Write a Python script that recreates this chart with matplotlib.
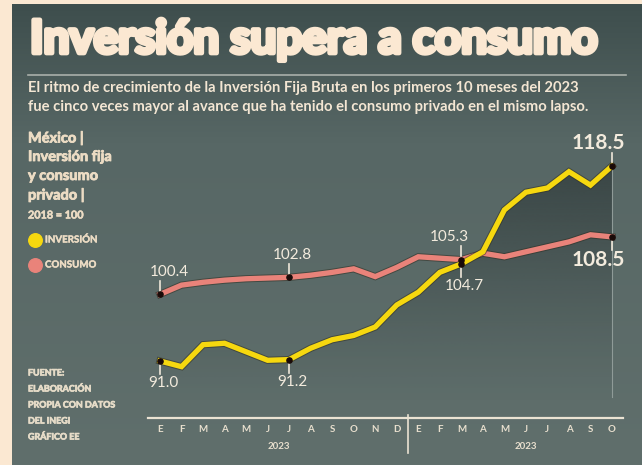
import matplotlib
matplotlib.use("Agg")
import matplotlib.pyplot as plt
import numpy as np
from matplotlib.patches import Polygon
import matplotlib.patheffects as pe

# ---- data (índice 2018 = 100), ene-2022 .. oct-2023 ----
meses = ["E", "F", "M", "A", "M", "J", "J", "A", "S", "O", "N", "D",
         "E", "F", "M", "A", "M", "J", "J", "A", "S", "O"]
anios = ["2023", "2023"]
inversion = [91.0, 90.2, 93.3, 93.5, 92.3, 91.1, 91.2, 92.8, 94.0, 94.6, 95.8, 98.9,
             100.7, 103.5, 104.7, 106.4, 112.3, 114.8, 115.4, 117.7, 115.8, 118.5]
consumo = [100.4, 101.7, 102.1, 102.4, 102.6, 102.7, 102.8, 103.1, 103.5, 104.0, 102.9, 104.2,
           105.7, 105.5, 105.3, 106.2, 105.7, 106.4, 107.1, 107.8, 108.8, 108.5]
# puntos rotulados: (indice, serie, texto, arriba?)
rotulos = [(0, "c", "100.4", True), (6, "c", "102.8", True), (14, "c", "105.3", True),
           (21, "c", "108.5", False), (0, "i", "91.0", False), (6, "i", "91.2", False),
           (14, "i", "104.7", False), (21, "i", "118.5", True)]

W, H = 642, 465
CREAM = "#fbe8d2"
TXT = "#f3e6d3"
C_INV = "#f6d80f"
C_CON = "#e9837a"
FAM = ["Lato", "DejaVu Sans"]


def fx(px):
    return px / W


def fy(py):
    return 1 - py / H


def heavy(col, w):
    return [pe.Stroke(linewidth=w, foreground=col), pe.Normal()]


fig = plt.figure(figsize=(W / 100, H / 100), dpi=100, facecolor=CREAM)

# panel de fondo con degradado
bg = fig.add_axes([0, 0, 1, 1])
bg.set_xlim(0, W); bg.set_ylim(H, 0); bg.axis("off")
top = np.array([0x3e, 0x4e, 0x4d]) / 255
mid = np.array([0x57, 0x67, 0x65]) / 255
bot = np.array([0x60, 0x6f, 0x6c]) / 255
panel = np.zeros((256, 1, 3))
for k, g in enumerate(np.linspace(0, 1, 256)):
    if g < 0.3:
        panel[k, 0] = top + (mid - top) * g / 0.3
    else:
        panel[k, 0] = mid + (bot - mid) * (g - 0.3) / 0.7
bg.imshow(panel, extent=[12, W, H, 5], aspect="auto", zorder=0)

# titulo y subtitulo
fig.text(fx(30), fy(40), "Inversión supera a consumo", fontsize=33, fontweight="bold",
         family=FAM, color=CREAM, va="center", ha="left", path_effects=heavy(CREAM, 3.4))
bg.plot([28, 626], [75, 75], color="#a9b0aa", lw=1.2)
fig.text(fx(28), fy(88), "El ritmo de crecimiento de la Inversión Fija Bruta en los primeros 10 meses del 2023",
         fontsize=10.6, family=FAM, fontweight="bold", color=TXT, va="center")
fig.text(fx(28), fy(107), "fue cinco veces mayor al avance que ha tenido el consumo privado en el mismo lapso.",
         fontsize=10.6, family=FAM, fontweight="bold", color=TXT, va="center")

# bloque izquierdo
for k, line in enumerate(["México |", "Inversión fija", "y consumo", "privado |"]):
    fig.text(fx(28), fy(138 + k * 19), line, fontsize=10.5, fontweight="bold",
             family=FAM, color="#ecdcc4", va="center", path_effects=heavy("#ecdcc4", 0.6))
fig.text(fx(28), fy(215), "2018 = 100", fontsize=7.8, fontweight="bold",
         family=FAM, color="#ecdcc4", va="center", path_effects=heavy("#ecdcc4", 0.4))
bg.scatter([35], [240], s=95, color=C_INV, zorder=3)
bg.scatter([35], [265], s=95, color=C_CON, zorder=3)
fig.text(fx(45), fy(240), "INVERSIÓN", fontsize=7, family=FAM, fontweight="bold",
         color="#ecdcc4", va="center", path_effects=heavy("#ecdcc4", 0.3))
fig.text(fx(45), fy(265), "CONSUMO", fontsize=7, family=FAM, fontweight="bold",
         color="#ecdcc4", va="center", path_effects=heavy("#ecdcc4", 0.3))
for k, line in enumerate(["FUENTE:", "ELABORACIÓN", "PROPIA CON DATOS", "DEL INEGI", "GRÁFICO EE"]):
    fig.text(fx(28), fy(373 + k * 16), line, fontsize=6.4, fontweight="bold",
             family=FAM, color="#e6dcc8", va="center", path_effects=heavy("#e6dcc8", 0.5))

# grafico principal
ax = fig.add_axes([fx(148), fy(418), fx(623) - fx(148), fy(140) - fy(418)])
ax.patch.set_alpha(0)
x = np.arange(len(meses))
step = (612 - 160) / 21
x0 = -12 / step
x1 = 21 + 11 / step
ppu = (361 - 166) / (118.5 - 91.0)
y0 = 91.0 - (418 - 361) / ppu
y1 = 91.0 + (361 - 140) / ppu
ax.set_xlim(x0, x1)
ax.set_ylim(y0, y1)
for s in ax.spines.values():
    s.set_visible(False)
ax.set_yticks([])

# sombra degradada bajo la linea de inversion
poly = Polygon(list(zip(x, inversion)) + [(21, y0), (0, y0)], closed=True,
               facecolor="none", edgecolor="none")
ax.add_patch(poly)
shade = np.zeros((256, 1, 4))
shade[:, 0, :3] = np.array([0x33, 0x3e, 0x3e]) / 255
shade[:, 0, 3] = 0.8 * (1 - np.linspace(0, 1, 256)) ** 1.3
im = ax.imshow(shade, extent=[0, 21, y0 + 2, max(inversion)], aspect="auto",
               origin="upper", zorder=1)
im.set_clip_path(poly)
ax.plot([21, 21], [y0 + 3, max(inversion)], color="#8f9b98", lw=0.8, zorder=1.5)

stroke = [pe.Stroke(linewidth=5.2, foreground="#2e2e22", alpha=0.55), pe.Normal()]
ax.plot(x, consumo, color=C_CON, lw=3.8, zorder=3, solid_joinstyle="miter",
        path_effects=stroke)
ax.plot(x, inversion, color=C_INV, lw=3.8, zorder=4, solid_joinstyle="miter",
        path_effects=stroke)

# eje x
ax.axhline(y0, color="#ebe3d3", lw=1.6, clip_on=False)
ax.set_xticks(x)
ax.set_xticklabels(meses, fontsize=7, fontweight="bold", color="#e8dfce", family=FAM)
ax.tick_params(axis="x", length=0, pad=5)
ax.plot([11.5, 11.5], [y0 + 0.4, y0 - 4.9], color="#ebe3d3", lw=1.2, clip_on=False)
for xi, yr in zip([5.5, 17], anios):
    ax.text(xi, y0 - 4.0, yr, fontsize=7, fontweight="bold", color="#e8dfce",
            family=FAM, ha="center", va="center")

# rotulos de valores
for i, serie, txt, arriba in rotulos:
    v = consumo[i] if serie == "c" else inversion[i]
    ax.scatter([i], [v], s=14, color="#1a0a08", zorder=6)
    d = 1 if arriba else -1
    ax.plot([i, i], [v + d * 0.5, v + d * 1.9], color="#f0e8da", lw=1.2, zorder=5)
    if i == 21:
        off, fs, fw, xt = 3.3, 15, "bold", i - 0.65
    else:
        off = 3.2 if arriba else 3.1
        fs, fw = 11, "normal"
        xt = i + (0.45 if (arriba and i == 0) else 0.15)
        if i == 14 and serie == "c":
            xt = i - 0.55
    ax.text(xt, v + d * off, txt, fontsize=fs, fontweight=fw, color="#f3ebdd",
            family=FAM, ha="center", va="center", zorder=6)

fig.savefig("out.png", dpi=100, facecolor=CREAM)
